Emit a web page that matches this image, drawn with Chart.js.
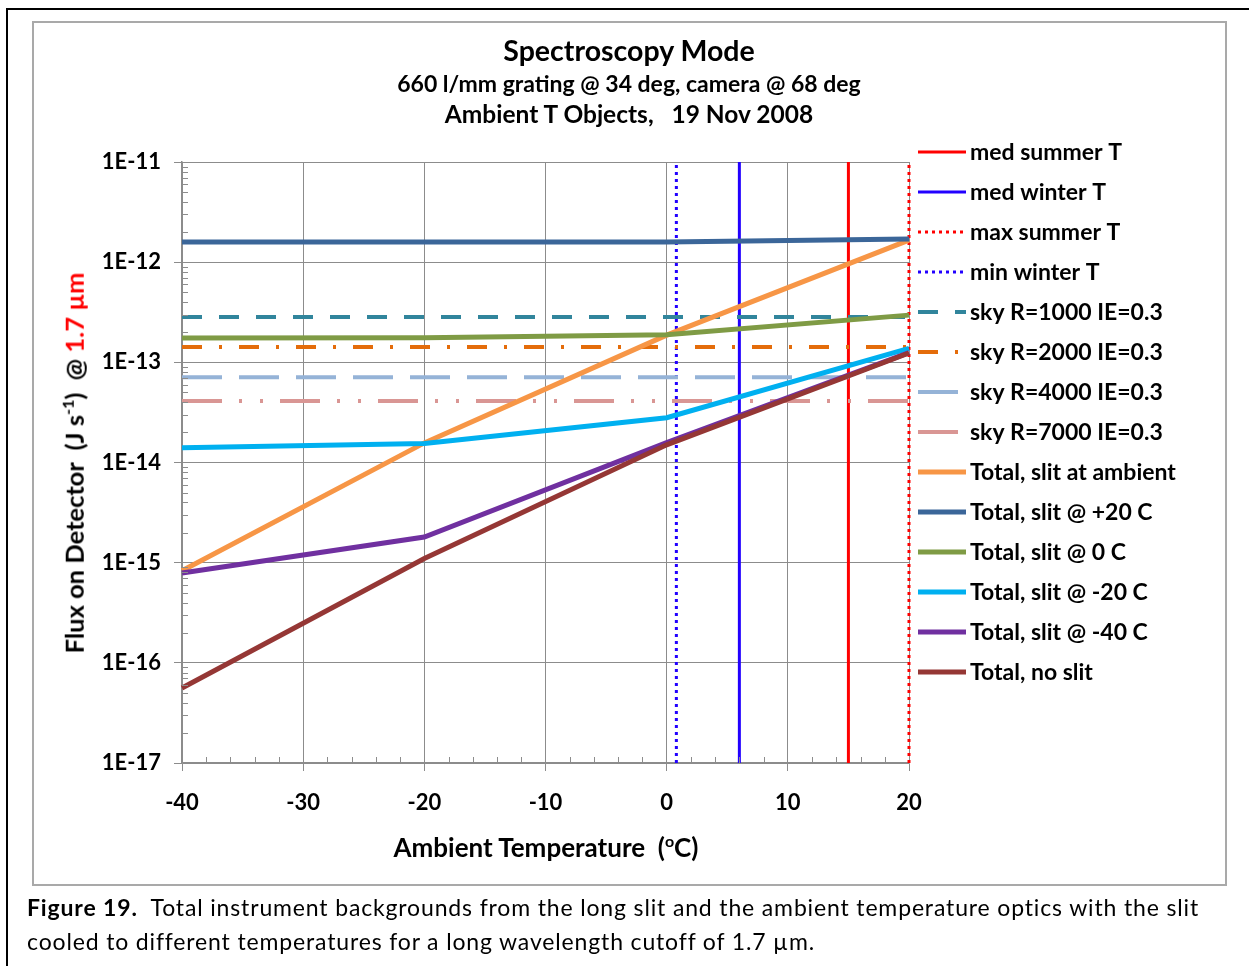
<!DOCTYPE html>
<html><head><meta charset="utf-8">
<script src="https://cdn.jsdelivr.net/npm/chart.js@4.4.1/dist/chart.umd.min.js"></script>
<style>
html,body{margin:0;padding:0;background:#fff;}
#page{position:relative;width:1249px;height:966px;overflow:hidden;font-family:Lato,"Open Sans",sans-serif;color:#000;}
#frame{position:absolute;left:6px;top:8px;width:1400px;height:1100px;border-left:2px solid #000;border-top:2px solid #000;}
#box{position:absolute;left:32px;top:21px;width:1191px;height:861px;border:2px solid #a9a9a9;}
canvas{position:absolute;left:0;top:0;}
.ttl{position:absolute;left:33px;width:1192px;text-align:center;font-weight:bold;white-space:pre;}
#ytitle{position:absolute;left:73px;top:463px;transform:translate(-50%,-50%) rotate(-90deg);font-weight:bold;font-size:25.5px;white-space:nowrap;}
#xtitle{position:absolute;left:546px;top:847px;transform:translate(-50%,-50%);font-weight:bold;font-size:26px;white-space:nowrap;}
#caption{position:absolute;left:27px;top:890px;font-size:23px;letter-spacing:0.85px;line-height:34px;white-space:nowrap;}
</style></head>
<body>
<div id="page">
<div id="frame"></div>
<div id="box"></div>
<canvas id="c" width="1249" height="966"></canvas>
<div class="ttl" style="top:33px;font-size:28.5px;line-height:34px;">Spectroscopy Mode</div>
<div class="ttl" style="top:69px;font-size:23px;line-height:28px;">660 l/mm grating @ 34 deg, camera @ 68 deg</div>
<div class="ttl" style="top:100px;font-size:24.5px;line-height:28px;">Ambient T Objects,   19 Nov 2008</div>
<div id="ytitle">Flux on Detector&nbsp; (J s<sup style="font-size:16px">-1</sup>)&nbsp; @ <span style="color:#ff0000">1.7 µm</span></div>
<div id="xtitle">Ambient Temperature&nbsp; (<sup style="font-size:16px">o</sup>C)</div>
<div id="caption"><b>Figure 19.</b>&nbsp; Total instrument backgrounds from the long slit and the ambient temperature optics with the slit<br>cooled to different temperatures for a long wavelength cutoff of 1.7 µm.</div>
</div>
<script>
// ---- data ----
const temps = [-40, -20, 0, 20];
const yRange = [1e-17, 1e-11];
const vlineNames = ['med summer T', 'med winter T', 'max summer T', 'min winter T'];
const vlineTemps = [15, 6, 20, 0.8];
const skyR1000 = [2.84e-13, 2.84e-13, 2.84e-13, 2.84e-13];
const skyR2000 = [1.42e-13, 1.42e-13, 1.42e-13, 1.42e-13];
const skyR4000 = [7.1e-14, 7.1e-14, 7.1e-14, 7.1e-14];
const skyR7000 = [4.1e-14, 4.1e-14, 4.1e-14, 4.1e-14];
const slitAmbient = [8.3e-16, 1.57e-14, 1.87e-13, 1.66e-12];
const slitPlus20 = [1.59e-12, 1.59e-12, 1.59e-12, 1.70e-12];
const slitZero = [1.75e-13, 1.76e-13, 1.89e-13, 2.96e-13];
const slitMinus20 = [1.40e-14, 1.55e-14, 2.8e-14, 1.38e-13];
const slitMinus40 = [7.9e-16, 1.8e-15, 1.58e-14, 1.25e-13];
const noSlit = [5.6e-17, 1.1e-15, 1.5e-14, 1.24e-13];
const yTickExponents = [-17, -16, -15, -14, -13, -12, -11];
const xTicks = [-40, -30, -20, -10, 0, 10, 20];

// ---- styles ----
const vStyles = [
  {color:'#ff0000', width:3, dash:[]},
  {color:'#2200ff', width:3, dash:[]},
  {color:'#ff0000', width:3, dash:[3,4]},
  {color:'#2200ff', width:3, dash:[3,4]}
];
const series = [
  {label:'sky R=1000 IE=0.3', data:skyR1000, color:'#31859c', width:4, dash:[20,17]},
  {label:'sky R=2000 IE=0.3', data:skyR2000, color:'#e46c0a', width:4, dash:[20,17,3,17]},
  {label:'sky R=4000 IE=0.3', data:skyR4000, color:'#95b3d7', width:4, dash:[40,17]},
  {label:'sky R=7000 IE=0.3', data:skyR7000, color:'#d99694', width:4, dash:[40,17,3,18,3,17]},
  {label:'Total, slit at ambient', data:slitAmbient, color:'#f79646', width:5, dash:[]},
  {label:'Total, slit @ +20 C', data:slitPlus20, color:'#3b6699', width:5, dash:[]},
  {label:'Total, slit @ 0 C', data:slitZero, color:'#7f9b45', width:5, dash:[]},
  {label:'Total, slit @ -20 C', data:slitMinus20, color:'#00b0f0', width:5, dash:[]},
  {label:'Total, slit @ -40 C', data:slitMinus40, color:'#7030a0', width:5, dash:[]},
  {label:'Total, no slit', data:noSlit, color:'#953735', width:5, dash:[]}
];

const datasets = [];
vlineTemps.forEach((t, i) => {
  datasets.push({label:vlineNames[i], data:yRange.map(v => ({x:t, y:v})),
    borderColor:vStyles[i].color, borderWidth:vStyles[i].width, borderDash:vStyles[i].dash,
    pointRadius:0, fill:false, clip:false});
});
series.forEach(s => {
  datasets.push({label:s.label, data:temps.map((t, j) => ({x:t, y:s.data[j]})),
    borderColor:s.color, borderWidth:s.width, borderDash:s.dash, borderCapStyle:'butt',
    pointRadius:0, fill:false, tension:0, clip:false});
});
const N = datasets.length;
datasets.forEach((d, i) => { d.order = N - i; });

const GRID = '#8c8c8c';
const FONT = 'Lato, "Open Sans", sans-serif';

const decor = {
  id:'decor',
  afterDatasetsDraw(chart) {
    const ctx = chart.ctx, xs = chart.scales.x, ys = chart.scales.y;
    const L = chart.chartArea.left, B = chart.chartArea.bottom;
    ctx.save();
    ctx.strokeStyle = GRID; ctx.lineWidth = 1;
    for (let e = -17; e < -11; e++) {
      for (let m = 2; m <= 9; m++) {
        const y = Math.round(ys.getPixelForValue(m * Math.pow(10, e))) + 0.5;
        ctx.beginPath(); ctx.moveTo(L, y); ctx.lineTo(L + 6, y); ctx.stroke();
      }
    }
    for (let v = -38; v < 20; v += 2) {
      if (v % 10 === 0) continue;
      const x = Math.round(xs.getPixelForValue(v)) + 0.5;
      ctx.beginPath(); ctx.moveTo(x, B); ctx.lineTo(x, B - 6); ctx.stroke();
    }
    ctx.restore();
  },
  afterDraw(chart) {
    const ctx = chart.ctx;
    ctx.save();
    ctx.font = 'bold 23px ' + FONT;
    ctx.textBaseline = 'middle';
    ctx.fillStyle = '#000';
    chart.data.datasets.forEach((d, i) => {
      const y = 152 + 40 * i;
      ctx.strokeStyle = d.borderColor; ctx.lineWidth = d.borderWidth;
      ctx.setLineDash(d.borderDash || []);
      ctx.lineCap = 'butt';
      ctx.beginPath(); ctx.moveTo(918, y); ctx.lineTo(966, y); ctx.stroke();
      ctx.setLineDash([]);
      ctx.fillText(d.label, 970, y + 1);
    });
    ctx.restore();
  }
};

new Chart(document.getElementById('c'), {
  type:'line',
  data:{datasets},
  plugins:[decor],
  options:{
    responsive:false, animation:false, events:[],
    layout:{padding:{left:82, right:340, top:162, bottom:143}},
    plugins:{legend:{display:false}, tooltip:{enabled:false}, title:{display:false}},
    scales:{
      x:{type:'linear', min:-40, max:20,
        afterBuildTicks(s){ s.ticks = xTicks.map(v => ({value:v})); },
        ticks:{color:'#000', font:{family:FONT, weight:'bold', size:22}, padding:19, maxRotation:0},
        grid:{color:GRID, lineWidth:1, tickLength:8, tickColor:GRID},
        border:{color:GRID, width:1.5},
        afterFit(s){ s.height = 60; }
      },
      y:{type:'logarithmic', min:yRange[0], max:yRange[1],
        afterBuildTicks(s){ s.ticks = yTickExponents.map(e => ({value:Math.pow(10, e)})); },
        ticks:{color:'#000', font:{family:FONT, weight:'bold', size:22}, padding:13,
          callback(v){ return '1E' + Math.round(Math.log10(v)); }},
        grid:{color:GRID, lineWidth:1, tickLength:8, tickColor:GRID},
        border:{color:GRID, width:1.5},
        afterFit(s){ s.width = 100; }
      }
    }
  }
});
</script>
</body></html>
